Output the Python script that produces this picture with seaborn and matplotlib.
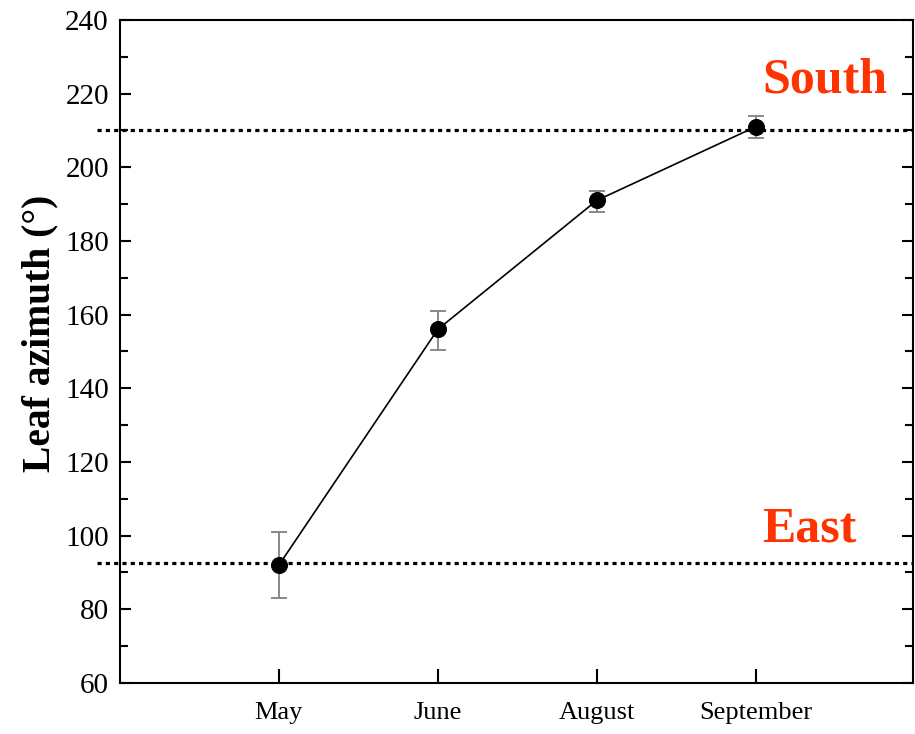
import matplotlib
matplotlib.use("Agg")
import matplotlib.pyplot as plt
from matplotlib.ticker import MultipleLocator
import seaborn as sns
import pandas as pd

# Mean leaf azimuth per month with error bounds
months = ["May", "June", "August", "September"]
azimuth = [92, 156, 191, 211]
err_low = [9, 5.5, 3, 3]
err_high = [9, 5, 2.5, 3]

# Reference orientations
ref_names = ["South", "East"]
ref_values = [210, 92.7]

sns.set_theme(style="white")
plt.rcParams["font.family"] = ["Liberation Serif", "DejaVu Serif"]
plt.rcParams["text.color"] = "black"
plt.rcParams["axes.labelcolor"] = "black"
plt.rcParams["xtick.color"] = "black"
plt.rcParams["ytick.color"] = "black"

df = pd.DataFrame({"pos": range(len(months)), "month": months, "azimuth": azimuth})

fig = plt.figure(figsize=(9.15, 7.34), dpi=100)
ax = fig.add_axes([0.1311, 0.0695, 0.8667, 0.9033])

ax.errorbar(df["pos"], df["azimuth"], yerr=[err_low, err_high], fmt="none",
            ecolor="#808080", elinewidth=1.3, capsize=6, capthick=1.3, zorder=2)
sns.lineplot(data=df, x="pos", y="azimuth", ax=ax, color="black", linewidth=1.2,
             marker="o", markersize=11.5, markerfacecolor="black",
             markeredgecolor="black", zorder=3)

# Dotted reference lines, extending slightly past the left spine
for v in ref_values:
    ax.axhline(v, xmin=-0.029, xmax=1.0, color="black", linewidth=2.3,
               linestyle=(0, (1.3, 1.3)), dash_capstyle="butt",
               clip_on=False, zorder=1)

label_y = [220.2, 98.5]
for name, y in zip(ref_names, label_y):
    ax.text(3.04, y, name, color="#FF3300", fontsize=36, fontweight="bold",
            ha="left", va="baseline")

ax.set_xlim(-1, 3.99)
ax.set_ylim(60, 240)
ax.set_xticks(df["pos"])
ax.set_xticklabels(months)
ax.yaxis.set_major_locator(MultipleLocator(20))
ax.yaxis.set_minor_locator(MultipleLocator(10))

ax.tick_params(axis="x", direction="in", length=10, width=1.5, labelsize=19, pad=14,
               bottom=True, top=False)
ax.tick_params(axis="y", which="major", direction="in", length=8, width=1.5,
               labelsize=21, pad=8, left=True, right=True)
ax.tick_params(axis="y", which="minor", direction="in", length=6, width=1.5,
               left=True, right=True)

ax.set_xlabel("")
ax.set_ylabel("Leaf azimuth (°)", fontsize=28.5, fontweight="bold")
ax.yaxis.set_label_coords(-0.078, 0.528)

for s in ax.spines.values():
    s.set_visible(True)
    s.set_color("black")
    s.set_linewidth(1.5)

fig.savefig("out.png", dpi=100)
